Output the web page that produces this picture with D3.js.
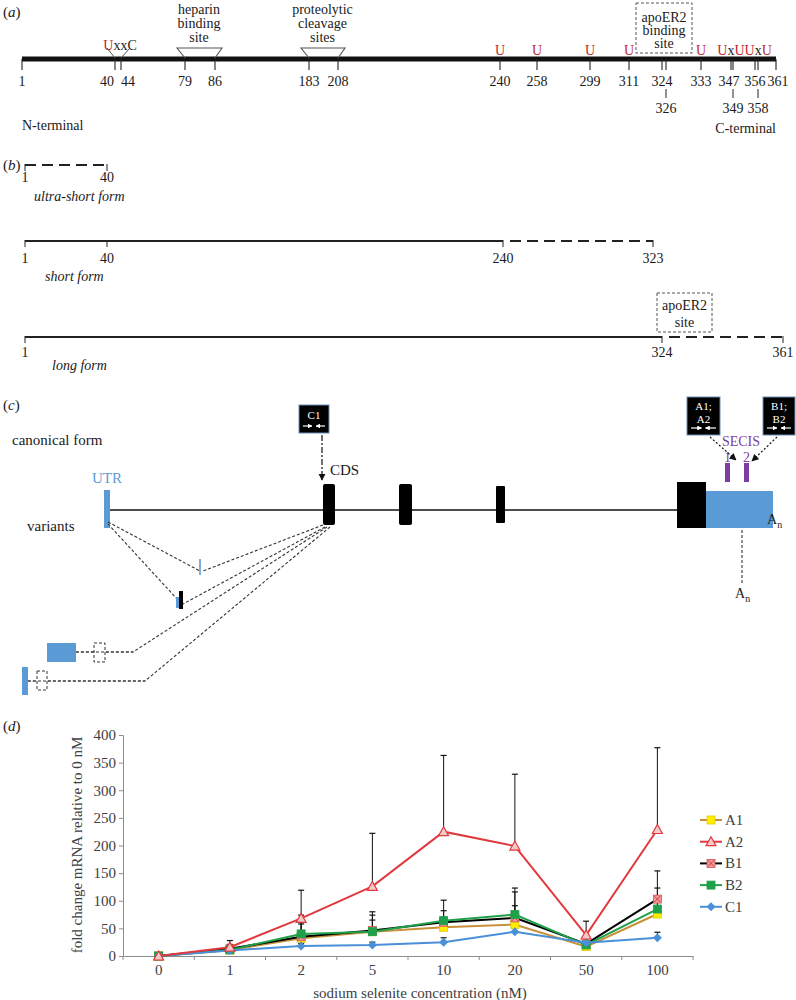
<!DOCTYPE html>
<html><head><meta charset="utf-8">
<script src="https://cdn.jsdelivr.net/npm/d3@7"></script>
<style>
body{margin:0;background:#fff}
svg text{font-family:"Liberation Serif","Times New Roman",serif;}
</style></head><body>
<svg id="c" width="796" height="1000"></svg>
<script>
// ================= DATA =================
// Panel (a): SELENOP protein residues
const aTickResidues = [1,40,44,79,86,183,208,240,258,299,311,324,326,333,347,349,356,358,361];
const aUpperLabels  = [1,40,44,79,86,183,208,240,258,299,311,324,333,347,356,361];
const aLowerLabels  = [326,349,358];
const aSingleU      = [240,258,299,311,333];
// Panel (b): isoforms
const bForms = [
  {name:"ultra-short form", solid:[1,1],   dashed:[1,40],    ticks:[1,40]},
  {name:"short form",       solid:[1,240], dashed:[240,323], ticks:[1,40,240,323]},
  {name:"long form",        solid:[1,324], dashed:[324,361], ticks:[1,324,361]}
];
// Panel (d): fold change mRNA
const concentrations = ["0","1","2","5","10","20","50","100"];
const seriesNames = ["A1","A2","B1","B2","C1"];
const A1 = [0, 11, 32, 44, 52, 57, 17, 76];
const A2 = [0, 16, 68, 126, 225, 199, 38, 229];
const B1 = [0, 13, 35, 46, 61, 69, 22, 103];
const B2 = [0, 11, 40, 44, 64, 75, 20, 85];
const C1 = [0, 10, 18, 20, 25, 44, 24, 33];
const A1err = [0, 6, 26, 21, 18, 34, 4, 30];
const A2err = [0, 12, 51, 96, 138, 130, 25, 148];
const B1err = [0, 8, 30, 34, 21, 47, 6, 51];
const B2err = [0, 6, 34, 30, 37, 48, 5, 38];
const C1err = [0, 3, 5, 5, 8, 10, 4, 10];
const yTicks = [0,50,100,150,200,250,300,350,400];

// ================= DRAW =================
const svg = d3.select("#c");
const INK = "#1a1a1a";
function panelLabel(x, y, letter){
  const t = svg.append("text").attr("x",x).attr("y",y).attr("font-size",15).attr("fill",INK);
  t.append("tspan").text("(");
  t.append("tspan").attr("font-style","italic").text(letter);
  t.append("tspan").text(")");
}
function txt(g,x,y,s,o={}){
  return g.append("text").attr("x",x).attr("y",y).text(s)
    .attr("font-size",o.size||14).attr("fill",o.fill||INK)
    .attr("text-anchor",o.anchor||"start")
    .attr("font-style",o.italic?"italic":null);
}

// ---------- (a) ----------
const gA = svg.append("g");
panelLabel(3,17,"a");
const aX = d3.scaleLinear().domain(aTickResidues)
  .range([22,115,121,185,215,309,338,500,537,590,629,662,666,701,731,733,755,758,776]);
const labelShift = {40:-8, 44:7, 347:-2, 361:2};
gA.append("line").attr("x1",aX(1)).attr("x2",aX(361)).attr("y1",59).attr("y2",59)
  .attr("stroke","#111").attr("stroke-width",5);
gA.selectAll(".tk").data(aTickResidues).join("line")
  .attr("x1",d=>aX(d)).attr("x2",d=>aX(d)).attr("y1",59).attr("y2",70)
  .attr("stroke","#222").attr("stroke-width",1.1);
gA.selectAll(".ul").data(aUpperLabels).join("text")
  .attr("x",d=>aX(d)+(labelShift[d]||0)).attr("y",86).attr("text-anchor","middle")
  .attr("font-size",14).attr("fill",INK).text(d=>d);
gA.selectAll(".lt").data(aLowerLabels).join("line")
  .attr("x1",d=>aX(d)).attr("x2",d=>aX(d)).attr("y1",89).attr("y2",98)
  .attr("stroke","#222").attr("stroke-width",1);
gA.selectAll(".ll").data(aLowerLabels).join("text")
  .attr("x",d=>aX(d)).attr("y",113).attr("text-anchor","middle")
  .attr("font-size",14).attr("fill",INK).text(d=>d);
txt(gA,22,130,"N-terminal");
txt(gA,776,133,"C-terminal",{anchor:"end"});
// U residues
const RED = "#c0272d";
gA.selectAll(".u").data(aSingleU).join("text")
  .attr("x",d=>aX(d)).attr("y",55).attr("text-anchor","middle")
  .attr("font-size",14).attr("fill",RED).text("U");
{
  const t = gA.append("text").attr("x",(aX(347)+aX(358))/2).attr("y",55).attr("text-anchor","middle").attr("font-size",14);
  ["U","x","U","U","x","U"].forEach(ch=>t.append("tspan").attr("fill",ch==="U"?RED:INK).text(ch));
}
{
  const t = gA.append("text").attr("x",(aX(40)+aX(44))/2+2).attr("y",50).attr("text-anchor","middle").attr("font-size",14);
  t.append("tspan").attr("fill",RED).text("U");
  t.append("tspan").attr("fill",INK).text("xxC");
  gA.append("path").attr("d",`M${aX(40)-8},48L${aX(40)},58M${aX(44)+9},48L${aX(44)},58`)
    .attr("stroke","#555").attr("fill","none");
}
// heparin & proteolytic trapezoids
[[79,86,"heparin","binding","site"],[183,208,"proteolytic","cleavage","sites"]].forEach(([s,e,l1,l2,l3])=>{
  const x0=aX(s), x1=aX(e);
  gA.append("path").attr("d",`M${x0},58L${x0-8},48L${x1+7},48L${x1},58`)
    .attr("stroke","#555").attr("fill","none").attr("stroke-width",1.1);
  const cx=(x0+x1)/2-1;
  [l1,l2,l3].forEach((l,i)=>txt(gA,cx,14+i*14,l,{anchor:"middle"}));
});
// apoER2 binding site box
{
  const x0=aX(324)-26, x1=aX(324)+30;
  gA.append("rect").attr("x",x0).attr("y",3).attr("width",x1-x0).attr("height",50)
    .attr("fill","none").attr("stroke","#555").attr("stroke-dasharray","3,2");
  ["apoER2","binding","site"].forEach((l,i)=>txt(gA,(x0+x1)/2,22+i*13,l,{anchor:"middle"}));
}

// ---------- (b) ----------
const gB = svg.append("g");
panelLabel(3,170,"b");
const bX = d3.scaleLinear().domain([1,40,240,323,324,361]).range([25,107,503,653,662,783]);
const bY = [165,241,337];
const bLabY = [182,263,357];
const bNameY = [201,281,370];
const bNameX = [34,45,52];
bForms.forEach((f,i)=>{
  const y=bY[i];
  if(f.solid[1]>f.solid[0])
    gB.append("line").attr("x1",bX(f.solid[0])).attr("x2",bX(f.solid[1])).attr("y1",y).attr("y2",y)
      .attr("stroke","#222").attr("stroke-width",2);
  const ds = f.solid[1]>f.solid[0] ? bX(f.dashed[0])+7 : bX(f.dashed[0]);
  gB.append("line").attr("x1",ds).attr("x2",bX(f.dashed[1])).attr("y1",y).attr("y2",y)
    .attr("stroke","#222").attr("stroke-width",2.2).attr("stroke-dasharray","11,6");
  gB.selectAll(null).data(f.ticks).join("line")
    .attr("x1",d=>bX(d)).attr("x2",d=>bX(d)).attr("y1",y-1).attr("y2",y+6)
    .attr("stroke","#222").attr("stroke-width",1);
  gB.selectAll(null).data(f.ticks).join("text")
    .attr("x",d=>bX(d)).attr("y",bLabY[i]).attr("text-anchor","middle")
    .attr("font-size",14).attr("fill",INK).text(d=>d);
  txt(gB,bNameX[i],bNameY[i],f.name,{italic:true});
});
{
  const x0=bX(324)-5, x1=bX(324)+50;
  gB.append("rect").attr("x",x0).attr("y",293).attr("width",x1-x0).attr("height",39)
    .attr("fill","none").attr("stroke","#555").attr("stroke-dasharray","3,2");
  txt(gB,(x0+x1)/2,310,"apoER2",{anchor:"middle"});
  txt(gB,(x0+x1)/2,327,"site",{anchor:"middle"});
}

// ---------- (c) ----------
const gC = svg.append("g");
panelLabel(3,410,"c");
const BLUE = "#5b9bd5", PURPLE = "#7a3fa0";
const defs = svg.append("defs");
defs.append("marker").attr("id","ah").attr("viewBox","0 0 10 10").attr("refX",9).attr("refY",5)
  .attr("markerWidth",6).attr("markerHeight",6).attr("orient","auto")
  .append("path").attr("d","M0,0L10,5L0,10z").attr("fill","#111");
defs.append("marker").attr("id","ahw").attr("viewBox","0 0 10 10").attr("refX",9).attr("refY",5)
  .attr("markerWidth",4).attr("markerHeight",4).attr("orient","auto")
  .append("path").attr("d","M0,0L10,5L0,10z").attr("fill","#fff");
txt(gC,12,445,"canonical form",{size:15});
txt(gC,27,531,"variants",{size:15});
txt(gC,92,483,"UTR",{size:15,fill:BLUE});
txt(gC,330,475,"CDS",{size:15});
gC.append("line").attr("x1",110).attr("x2",677).attr("y1",510).attr("y2",510).attr("stroke","#111").attr("stroke-width",1.6);
gC.append("rect").attr("x",104).attr("y",490).attr("width",6).attr("height",38).attr("fill",BLUE);
const exons = [[323,335,484,525,2],[399,412,484,525,2],[496,505,486,523,1],[677,706,482,528,0]];
exons.forEach(e=>gC.append("rect").attr("x",e[0]).attr("y",e[2]).attr("width",e[1]-e[0]).attr("height",e[3]-e[2])
  .attr("rx",e[4]).attr("fill","#000"));
gC.append("rect").attr("x",706).attr("y",491).attr("width",67).attr("height",37).attr("fill",BLUE);
{
  const t=gC.append("text").attr("x",767).attr("y",524).attr("font-size",14).attr("fill",INK);
  t.append("tspan").text("A"); t.append("tspan").attr("font-size",10).attr("dy",4).text("n");
  const t2=gC.append("text").attr("x",735).attr("y",598).attr("font-size",14).attr("fill",INK);
  t2.append("tspan").text("A"); t2.append("tspan").attr("font-size",10).attr("dy",4).text("n");
  gC.append("line").attr("x1",742).attr("x2",742).attr("y1",530).attr("y2",584)
    .attr("stroke","#222").attr("stroke-dasharray","3,2");
}
[[725,"1"],[744,"2"]].forEach(([x,l])=>{
  gC.append("rect").attr("x",x).attr("y",463).attr("width",5).attr("height",19).attr("fill",PURPLE);
  txt(gC,x+2.5,462,l,{anchor:"middle",fill:PURPLE});
});
txt(gC,741,446,"SECIS",{anchor:"middle",fill:PURPLE});
function primerBox(x0,x1,y0,y1,lines){
  gC.append("rect").attr("x",x0).attr("y",y0).attr("width",x1-x0).attr("height",y1-y0)
    .attr("fill","#000").attr("stroke","#6a8fb5").attr("stroke-width",1);
  const cx=(x0+x1)/2;
  lines.forEach((l,i)=>txt(gC,cx,y0+(lines.length===1?14:13)+i*13,l,{anchor:"middle",fill:"#fff",size:11}));
  const ay=y1-7;
  gC.append("line").attr("x1",x0+4).attr("x2",cx-2).attr("y1",ay).attr("y2",ay)
    .attr("stroke","#fff").attr("stroke-width",1.2).attr("marker-end","url(#ahw)");
  gC.append("line").attr("x1",x1-4).attr("x2",cx+2).attr("y1",ay).attr("y2",ay)
    .attr("stroke","#fff").attr("stroke-width",1.2).attr("marker-end","url(#ahw)");
}
primerBox(299,329,405,433,["C1"]);
primerBox(687,720,397,435,["A1;","A2"]);
primerBox(763,795,397,435,["B1;","B2"]);
gC.append("line").attr("x1",322).attr("x2",322).attr("y1",435).attr("y2",480)
  .attr("stroke","#111").attr("stroke-width",1.2).attr("stroke-dasharray","6,2,2,2").attr("marker-end","url(#ah)");
gC.append("line").attr("x1",710).attr("x2",736).attr("y1",437).attr("y2",460)
  .attr("stroke","#111").attr("stroke-width",1.2).attr("stroke-dasharray","2,2").attr("marker-end","url(#ah)");
gC.append("line").attr("x1",777).attr("x2",752).attr("y1",437).attr("y2",461)
  .attr("stroke","#111").attr("stroke-width",1.2).attr("stroke-dasharray","2,2").attr("marker-end","url(#ah)");
const vDash = "3,2";
const variantPaths = [
  [[108,522],[200,571]],
  [[323,525],[203,571]],
  [[108,524],[178,600]],
  [[325,527],[183,604]],
  [[327,527],[133,652],[76,652]],
  [[330,527],[145,681],[28,681]]
];
variantPaths.forEach(p=>gC.append("path").attr("d",d3.line()(p)).attr("fill","none")
  .attr("stroke","#333").attr("stroke-width",1.1).attr("stroke-dasharray",vDash));
gC.append("line").attr("x1",200).attr("x2",200).attr("y1",559).attr("y2",575).attr("stroke",BLUE).attr("stroke-width",1.6);
gC.append("rect").attr("x",176).attr("y",597).attr("width",3).attr("height",11).attr("fill",BLUE);
gC.append("rect").attr("x",179).attr("y",591).attr("width",4).attr("height",18).attr("fill","#000");
gC.append("rect").attr("x",47).attr("y",643).attr("width",29).attr("height",19).attr("fill",BLUE);
gC.append("rect").attr("x",94).attr("y",643).attr("width",11).attr("height",19).attr("fill","#fff").attr("stroke","#333").attr("stroke-dasharray","3,2");
gC.append("rect").attr("x",22).attr("y",667).attr("width",6).attr("height",28).attr("fill",BLUE);
gC.append("rect").attr("x",37).attr("y",671).attr("width",10).attr("height",19).attr("fill","#fff").attr("stroke","#333").attr("stroke-dasharray","3,2");
gC.append("line").attr("x1",28).attr("x2",145).attr("y1",681).attr("y2",681).attr("stroke","#333").attr("stroke-dasharray",vDash);
gC.append("line").attr("x1",76).attr("x2",133).attr("y1",652).attr("y2",652).attr("stroke","#333").attr("stroke-dasharray",vDash);

// ---------- (d) ----------
const gD = svg.append("g");
panelLabel(3,731,"d");
const x = d3.scaleBand().domain(concentrations).range([123,693]);
const y = d3.scaleLinear().domain([0,400]).range([956,735]);
const GREY="#404040", AX="#8c8c8c";
const yAxis = gD.append("g").attr("transform","translate(123,0)")
  .call(d3.axisLeft(y).tickValues(yTicks).tickSize(4).tickPadding(3));
yAxis.selectAll("path,line").attr("stroke",AX);
yAxis.selectAll("text").attr("font-size",15).attr("fill",GREY).attr("font-family","'Liberation Serif',serif");
const xAxis = gD.append("g").attr("transform","translate(0,956)")
  .call(d3.axisBottom(x).tickSize(0).tickPadding(8).tickSizeOuter(0));
xAxis.select("path").attr("stroke",AX);
xAxis.selectAll("text").attr("font-size",15).attr("fill",GREY).attr("font-family","'Liberation Serif',serif");
const edges = concentrations.map(c=>x(c)).concat([x.range()[1]]);
gD.selectAll(".xt").data(edges).join("line").attr("x1",d=>d).attr("x2",d=>d).attr("y1",956).attr("y2",960).attr("stroke",AX);
gD.append("text").attr("transform","translate(82,845) rotate(-90)").attr("text-anchor","middle")
  .attr("font-size",15).attr("fill",GREY).text("fold change mRNA relative to 0 nM");
gD.append("text").attr("x",420).attr("y",998).attr("text-anchor","middle")
  .attr("font-size",15).attr("fill",GREY).text("sodium selenite concentration (nM)");

const seriesVals = {A1,A2,B1,B2,C1};
const seriesErr = {A1:A1err,A2:A2err,B1:B1err,B2:B2err,C1:C1err};
const style = {
  A1:{line:"#c8903a", fill:"#ffee00", stroke:"#e0c800", shape:"square"},
  A2:{line:"#e0393e", fill:"#f6c9c9", stroke:"#e0393e", shape:"triangle"},
  B1:{line:"#000000", fill:"#f29a9a", stroke:"#d05050", shape:"xsquare"},
  B2:{line:"#1fa04a", fill:"#1fa04a", stroke:"#1fa04a", shape:"square"},
  C1:{line:"#4a8fd8", fill:"#4a8fd8", stroke:"#4a8fd8", shape:"diamond"}
};
const cx = c => x(c)+x.bandwidth()/2;
seriesNames.forEach(s=>{
  const v=seriesVals[s], e=seriesErr[s];
  concentrations.forEach((c,i)=>{
    if(e[i]<=0) return;
    gD.append("line").attr("x1",cx(c)).attr("x2",cx(c)).attr("y1",y(v[i])).attr("y2",y(v[i]+e[i])).attr("stroke","#111").attr("stroke-width",1);
    gD.append("line").attr("x1",cx(c)-3).attr("x2",cx(c)+3).attr("y1",y(v[i]+e[i])).attr("y2",y(v[i]+e[i])).attr("stroke","#111").attr("stroke-width",1.2);
  });
});
function marker(g,s,px,py){
  const st=style[s];
  if(st.shape==="square"||st.shape==="xsquare"){
    g.append("rect").attr("x",px-4).attr("y",py-4).attr("width",8).attr("height",8).attr("fill",st.fill).attr("stroke",st.stroke).attr("stroke-width",0.8);
    if(st.shape==="xsquare") g.append("path").attr("d",`M${px-3},${py-3}L${px+3},${py+3}M${px+3},${py-3}L${px-3},${py+3}`).attr("stroke","#d04040").attr("stroke-width",1);
  } else if(st.shape==="triangle"){
    g.append("path").attr("d",`M${px},${py-5}L${px+5},${py+4}L${px-5},${py+4}Z`).attr("fill",st.fill).attr("stroke",st.stroke).attr("stroke-width",1.2);
  } else {
    g.append("path").attr("d",`M${px},${py-4.5}L${px+4.5},${py}L${px},${py+4.5}L${px-4.5},${py}Z`).attr("fill",st.fill);
  }
}
const drawOrder = ["A1","B1","B2","C1","A2"];
drawOrder.forEach(s=>{
  const v=seriesVals[s];
  const pts = concentrations.map((c,i)=>[cx(c),y(v[i])]);
  gD.append("path").attr("d",d3.line()(pts)).attr("fill","none").attr("stroke",style[s].line).attr("stroke-width",2);
  pts.forEach(p=>marker(gD,s,p[0],p[1]));
});
seriesNames.forEach((s,i)=>{
  const ly = 820 + i*21.7;
  gD.append("line").attr("x1",700).attr("x2",722).attr("y1",ly).attr("y2",ly).attr("stroke",style[s].line).attr("stroke-width",2);
  marker(gD,s,711,ly);
  gD.append("text").attr("x",725).attr("y",ly+5).attr("font-size",15).attr("fill",GREY).text(s);
});
</script></body></html>
